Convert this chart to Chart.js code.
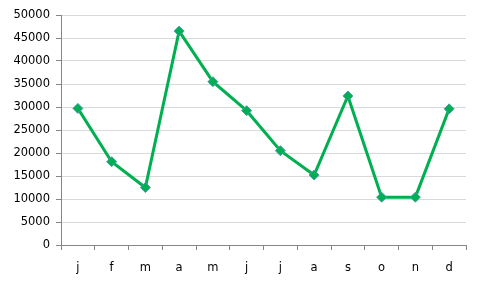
<!DOCTYPE html>
<html>
<head>
<meta charset="utf-8">
<script src="https://cdn.jsdelivr.net/npm/chart.js@4/dist/chart.umd.min.js"></script>
<style>
  html, body { margin: 0; padding: 0; background: #fff; }
  #wrap { width: 482px; height: 290px; }
</style>
</head>
<body>
<div id="wrap"><canvas id="chart" width="482" height="290"></canvas></div>
<script>
// Chart data
const months = ['j', 'f', 'm', 'a', 'm', 'j', 'j', 'a', 's', 'o', 'n', 'd'];
const values = [29700, 18100, 12500, 46500, 35500, 29200, 20500, 15200, 32400, 10400, 10400, 29600];
const yMin = 0;
const yMax = 50000;
const yStep = 5000;

const axisGray = '#868686';
const gridGray = '#D9D9D9';
const green = '#00B050';

const ctx = document.getElementById('chart').getContext('2d');
new Chart(ctx, {
    type: 'line',
    data: {
        labels: months,
        datasets: [{
            data: values,
            borderColor: green,
            borderWidth: 3,
            pointStyle: 'rectRot',
            pointRadius: 5,
            pointHoverRadius: 5,
            pointBackgroundColor: green,
            pointBorderColor: '#4A9AAE',
            pointBorderWidth: 1,
            tension: 0,
            fill: false
        }]
    },
    options: {
        responsive: false,
        animation: false,
        layout: { padding: { left: 0, right: 16, top: 15, bottom: 0 } },
        plugins: {
            legend: { display: false },
            tooltip: { enabled: false }
        },
        scales: {
            x: {
                offset: true,
                grid: {
                    offset: true,
                    drawOnChartArea: false,
                    drawTicks: true,
                    tickLength: 5,
                    tickColor: axisGray
                },
                border: { display: true, color: axisGray, width: 1 },
                ticks: {
                    color: '#000',
                    padding: 11,
                    font: { family: 'DejaVu Sans', size: 11.5 },
                    maxRotation: 0
                },
                afterFit: function(axis) { axis.height = 45; }
            },
            y: {
                min: yMin,
                max: yMax,
                grid: {
                    color: gridGray,
                    tickLength: 5,
                    tickColor: axisGray
                },
                border: { display: true, color: axisGray, width: 1 },
                ticks: {
                    stepSize: yStep,
                    color: '#000',
                    padding: 6,
                    font: { family: 'DejaVu Sans', size: 11.5 },
                    callback: function(v) { return String(v); }
                },
                afterFit: function(axis) { axis.width = 61; }
            }
        }
    }
});
</script>
</body>
</html>
